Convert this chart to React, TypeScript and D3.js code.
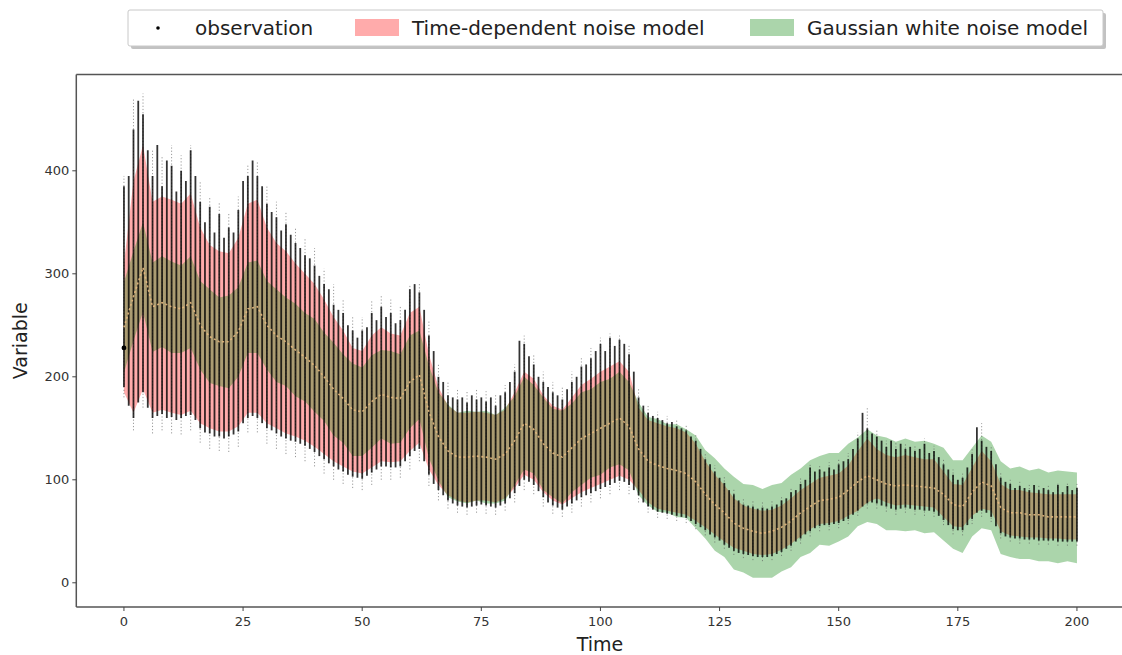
import React from "react";
import * as d3 from "d3";

// Model band times (every 2 time units) and observation times (every unit)
const bandTimes: number[] = d3.range(0, 201, 2);
const obsTimes: number[] = d3.range(0, 201, 1);

// Central estimate (dotted tan line)
const mid: number[] = [
  248, 278, 306, 268, 272, 268, 266, 272, 250, 239, 234, 234, 244, 266, 268, 250, 240, 234, 226, 219,
  211, 200, 188, 179, 168, 166, 176, 183, 180, 179, 195, 202, 166, 142, 128, 122, 122, 123, 122, 120,
  125, 138, 155, 149, 135, 126, 122, 131, 140, 145, 150, 155, 160, 152, 130, 118, 114, 111, 109, 106,
  98, 86, 76, 68, 58, 53, 50, 48, 50, 54, 60, 68, 74, 80, 81, 83, 90, 98, 104, 100,
  96, 94, 95, 94, 93, 92, 86, 76, 74, 88, 98, 94, 73, 68, 68, 66, 66, 64, 64, 64, 64,
];

// Time-dependent noise model interval
const redHi: number[] = [
  310, 390, 425, 370, 375, 372, 368, 378, 345, 328, 322, 320, 335, 368, 372, 345, 330, 322, 310, 300,
  290, 275, 258, 245, 228, 225, 240, 248, 242, 240, 262, 268, 222, 190, 172, 165, 165, 166, 165, 163,
  168, 185, 205, 198, 182, 172, 168, 180, 192, 198, 205, 210, 215, 205, 170, 158, 155, 152, 150, 146,
  135, 118, 105, 95, 82, 75, 72, 70, 71, 75, 82, 90, 96, 102, 104, 106, 114, 128, 140, 130,
  124, 122, 124, 122, 120, 120, 108, 96, 95, 112, 128, 118, 96, 90, 90, 88, 87, 86, 86, 86, 86,
];
const redLo: number[] = [
  185, 165, 188, 165, 168, 165, 163, 167, 155, 150, 147, 147, 152, 165, 165, 155, 150, 145, 142, 138,
  132, 125, 118, 113, 108, 106, 112, 118, 117, 118, 128, 136, 110, 95, 85, 80, 78, 80, 80, 78,
  82, 92, 105, 100, 88, 80, 76, 82, 88, 92, 96, 100, 104, 100, 90, 78, 72, 70, 68, 66,
  60, 54, 47, 40, 34, 31, 28, 27, 28, 32, 38, 45, 52, 57, 58, 60, 65, 70, 78, 82,
  78, 75, 76, 75, 74, 73, 64, 55, 54, 65, 72, 70, 50, 46, 45, 44, 44, 43, 43, 42, 42,
];

// Gaussian white noise model interval
const greenHi: number[] = [
  292, 322, 350, 311, 317, 312, 308, 317, 293, 285, 277, 279, 287, 311, 313, 293, 285, 277, 271, 262,
  256, 243, 233, 222, 213, 209, 221, 226, 225, 222, 240, 245, 211, 185, 173, 165, 167, 166, 167, 163,
  170, 181, 200, 192, 180, 169, 167, 174, 185, 188, 195, 198, 205, 195, 175, 161, 159, 154, 154, 149,
  143, 129, 121, 111, 103, 96, 95, 91, 95, 97, 105, 111, 119, 123, 126, 126, 135, 141, 149, 143,
  141, 137, 140, 137, 138, 135, 131, 119, 119, 131, 143, 137, 118, 111, 113, 109, 111, 107, 109, 108, 107,
];
const greenLo: number[] = [
  204, 235, 263, 224, 229, 223, 223, 228, 207, 194, 191, 189, 200, 223, 223, 207, 195, 191, 181, 176,
  166, 157, 143, 136, 123, 123, 131, 140, 135, 136, 150, 159, 121, 99, 83, 79, 77, 80, 77, 77,
  80, 95, 110, 106, 90, 83, 77, 88, 95, 102, 105, 112, 115, 109, 85, 75, 69, 68, 64, 63,
  53, 43, 31, 25, 13, 10, 5, 5, 5, 11, 15, 25, 29, 37, 36, 40, 45, 55, 59, 57,
  51, 51, 50, 51, 48, 49, 41, 33, 29, 45, 53, 51, 28, 25, 23, 23, 21, 21, 19, 21, 19,
];

// Observation spread at each time (dense part)
const obsHi: number[] = [
  385, 395, 440, 468, 455, 420, 395, 425, 385, 410, 405, 380, 400, 390, 420, 395, 370, 350, 365, 340,
  358, 335, 345, 340, 362, 390, 395, 410, 395, 385, 368, 360, 355, 342, 348, 338, 330, 325, 318, 315,
  308, 298, 290, 285, 270, 265, 262, 250, 245, 238, 245, 248, 262, 255, 268, 258, 262, 252, 255, 265,
  285, 290, 282, 265, 240, 225, 200, 195, 182, 180, 178, 180, 175, 182, 178, 180, 176, 180, 172, 182,
  185, 195, 205, 235, 232, 220, 212, 200, 195, 190, 185, 182, 178, 188, 195, 200, 210, 212, 218, 225,
  232, 225, 238, 230, 236, 232, 222, 205, 180, 172, 165, 162, 160, 158, 155, 156, 152, 150, 148, 142,
  138, 130, 120, 115, 108, 102, 97, 90, 86, 80, 76, 75, 74, 72, 73, 72, 74, 76, 80, 82,
  88, 90, 96, 100, 112, 108, 110, 108, 112, 110, 115, 118, 120, 130, 140, 165, 150, 145, 142, 138,
  132, 138, 130, 135, 130, 132, 128, 130, 135, 126, 128, 122, 115, 110, 105, 100, 102, 112, 125, 151,
  138, 132, 128, 115, 102, 98, 96, 92, 94, 92, 90, 95, 90, 92, 90, 88, 95, 88, 94, 90,
  92,
];
const obsLo: number[] = [
  190, 172, 160, 175, 185, 170, 160, 162, 164, 160, 161, 158, 160, 162, 163, 158, 150, 146, 145, 142,
  142, 140, 142, 144, 147, 155, 160, 162, 160, 155, 150, 148, 145, 142, 140, 138, 137, 135, 133, 130,
  127, 123, 120, 116, 113, 110, 108, 105, 103, 102, 101, 104, 107, 110, 113, 113, 112, 112, 113, 118,
  123, 128, 130, 118, 105, 96, 90, 85, 80, 77, 75, 74, 73, 74, 75, 76, 75, 74, 73, 75,
  77, 82, 87, 94, 100, 98, 95, 89, 83, 78, 75, 73, 71, 74, 77, 80, 83, 85, 87, 89,
  91, 93, 95, 97, 99, 98, 95, 90, 85, 78, 74, 71, 69, 68, 67, 66, 65, 64, 63, 60,
  57, 54, 51, 47, 44, 41, 37, 34, 31, 29, 28, 27, 26, 25, 25, 25, 26, 28, 30, 33,
  36, 40, 43, 47, 50, 53, 55, 56, 56, 57, 58, 60, 62, 66, 70, 74, 77, 78, 77, 75,
  74, 72, 71, 72, 73, 72, 71, 71, 70, 70, 69, 65, 61, 56, 52, 51, 51, 56, 62, 68,
  70, 68, 64, 55, 48, 45, 44, 43, 43, 42, 42, 42, 41, 41, 41, 41, 40, 40, 40, 40,
  40,
];

// Sparse outer observations (every 2 time units)
const tailHi: number[] = [
  395, 470, 475, 420, 415, 425, 415, 425, 390, 375, 370, 360, 375, 405, 410, 385, 370, 360, 345, 335,
  325, 305, 290, 275, 258, 258, 275, 280, 275, 268, 290, 292, 255, 212, 195, 188, 186, 188, 186, 184,
  192, 212, 240, 222, 205, 195, 190, 205, 218, 228, 238, 242, 240, 232, 188, 172, 166, 162, 158, 154,
  144, 126, 114, 103, 92, 82, 80, 78, 80, 85, 93, 102, 115, 115, 117, 120, 126, 146, 170, 148,
  138, 136, 136, 134, 140, 133, 120, 110, 106, 130, 155, 133, 107, 100, 98, 95, 95, 95, 98, 98, 96,
];
const tailLo: number[] = [
  180, 148, 170, 145, 148, 145, 144, 148, 136, 130, 128, 127, 132, 146, 146, 135, 130, 125, 122, 118,
  113, 106, 100, 96, 92, 90, 95, 100, 100, 102, 110, 118, 94, 80, 72, 68, 66, 68, 67, 66,
  70, 78, 90, 86, 74, 67, 64, 68, 74, 78, 82, 86, 90, 86, 78, 68, 63, 62, 60, 58,
  52, 46, 39, 33, 27, 24, 22, 21, 22, 26, 31, 38, 45, 50, 51, 53, 57, 65, 72, 72,
  69, 66, 68, 66, 65, 64, 56, 47, 46, 57, 64, 59, 43, 40, 38, 38, 37, 37, 36, 36, 36,
];

// Single marked observation at the start
const firstObs = { t: 0, v: 228 };

const xTicks: number[] = [0, 25, 50, 75, 100, 125, 150, 175, 200];
const yTicks: number[] = [0, 100, 200, 300, 400];

const legendItems: string[] = ["observation", "Time-dependent noise model", "Gaussian white noise model"];

const W = 1122;
const H = 655;
const FONT = "'DejaVu Sans', sans-serif";

export default function App() {
  const x = d3.scaleLinear().domain([-10, 210]).range([76.3, 1124.6]);
  const y = d3.scaleLinear().domain([-23.5, 493.5]).range([607, 74.5]);

  const redArea = d3
    .area<number>()
    .x((_, i) => x(bandTimes[i]))
    .y0((_, i) => y(redLo[i]))
    .y1((_, i) => y(redHi[i]))(bandTimes);
  const greenArea = d3
    .area<number>()
    .x((_, i) => x(bandTimes[i]))
    .y0((_, i) => y(greenLo[i]))
    .y1((_, i) => y(greenHi[i]))(bandTimes);
  const midLine = d3
    .line<number>()
    .x((_, i) => x(bandTimes[i]))
    .y((_, i) => y(mid[i]))(bandTimes);

  const plotL = x(-10);
  const plotT = y(493.5);
  const plotB = y(-23.5);

  return (
    <svg
      width={W}
      height={H}
      viewBox={`0 0 ${W} ${H}`}
      style={{ position: "absolute", left: 0, top: 0, background: "#fff" }}
      fontFamily={FONT}
    >
      <defs>
        <clipPath id="plotClip">
          <rect x={plotL} y={plotT} width={W - plotL} height={plotB - plotT} />
        </clipPath>
      </defs>

      <g clipPath="url(#plotClip)">
        <path d={redArea ?? ""} fill="rgb(255,0,0)" fillOpacity={0.33} />
        <path d={greenArea ?? ""} fill="rgb(0,128,0)" fillOpacity={0.33} />

        {/* sparse outer observations */}
        {bandTimes.map((t, i) => (
          <line
            key={`tail-${t}`}
            x1={x(t)}
            x2={x(t)}
            y1={y(tailLo[i])}
            y2={y(tailHi[i])}
            stroke="#555"
            strokeOpacity={0.6}
            strokeWidth={1}
            strokeDasharray="1.2,2"
          />
        ))}

        {/* dense observations */}
        {obsTimes.map((t, i) => (
          <line
            key={`obs-${t}`}
            x1={x(t)}
            x2={x(t)}
            y1={y(obsLo[i])}
            y2={y(obsHi[i])}
            stroke="#000"
            strokeOpacity={0.8}
            strokeWidth={1.8}
          />
        ))}

        <path
          d={midLine ?? ""}
          fill="none"
          stroke="#e7b97f"
          strokeWidth={1.6}
          strokeDasharray="2,2.5"
          strokeOpacity={0.9}
        />
        <circle cx={x(firstObs.t)} cy={y(firstObs.v)} r={2.4} fill="#000" />
      </g>

      {/* spines */}
      <g stroke="#555" strokeWidth={1.5} fill="none">
        <line x1={plotL} x2={W} y1={plotT} y2={plotT} />
        <line x1={plotL} x2={W} y1={plotB} y2={plotB} />
        <line x1={plotL} x2={plotL} y1={plotT} y2={plotB} />
      </g>

      {/* x axis */}
      <g fontSize={13} fill="#333" textAnchor="middle">
        {xTicks.map((t) => (
          <g key={`xt-${t}`}>
            <line x1={x(t)} x2={x(t)} y1={plotB} y2={plotB + 4} stroke="#444" strokeWidth={1} />
            <text x={x(t)} y={plotB + 19}>
              {t}
            </text>
          </g>
        ))}
      </g>
      <text x={600} y={651} fontSize={19} textAnchor="middle" fill="#222">
        Time
      </text>

      {/* y axis */}
      <g fontSize={13} fill="#333" textAnchor="end">
        {yTicks.map((v) => (
          <g key={`yt-${v}`}>
            <line x1={plotL - 4} x2={plotL} y1={y(v)} y2={y(v)} stroke="#444" strokeWidth={1} />
            <text x={plotL - 7} y={y(v) + 4.5}>
              {v}
            </text>
          </g>
        ))}
      </g>
      <text
        transform={`translate(27, ${(plotT + plotB) / 2}) rotate(-90)`}
        fontSize={19}
        textAnchor="middle"
        fill="#222"
      >
        Variable
      </text>

      {/* legend */}
      <g>
        <rect x={131} y={13} width={975} height={36} rx={2} fill="#999" opacity={0.6} />
        <rect x={128} y={10} width={975} height={36} rx={2} fill="#fff" stroke="#c8c8c8" strokeWidth={1} />
        <circle cx={158} cy={28} r={1.8} fill="#000" />
        <text x={195} y={35} fontSize={20} fill="#222">
          {legendItems[0]}
        </text>
        <rect x={355} y={19} width={44} height={17} fill="rgb(255,0,0)" fillOpacity={0.33} />
        <text x={412} y={35} fontSize={20} fill="#222">
          {legendItems[1]}
        </text>
        <rect x={750} y={19} width={44} height={17} fill="rgb(0,128,0)" fillOpacity={0.33} />
        <text x={807} y={35} fontSize={20} fill="#222">
          {legendItems[2]}
        </text>
      </g>
    </svg>
  );
}
